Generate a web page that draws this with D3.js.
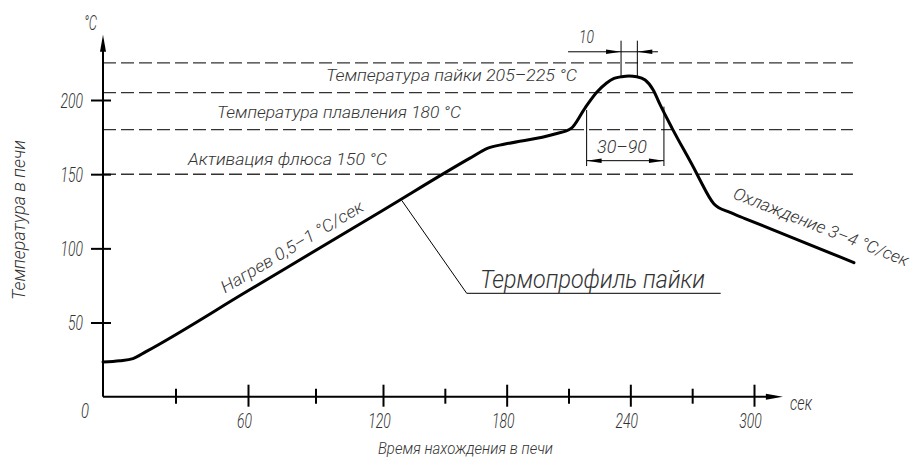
<!DOCTYPE html>
<html>
<head>
<meta charset="utf-8">
<script src="https://cdn.jsdelivr.net/npm/d3@7"></script>
<style>
  body { margin: 0; background: #fff; }
  text { font-family: Roboto, 'DejaVu Sans Condensed', sans-serif; font-weight: 300; font-style: italic; fill: #333; }
</style>
</head>
<body>
<div id="chart-area"></div>
<script>
// soldering thermal profile (time, sec -> temperature, °C)
var profileTime = [0, 7, 12.4, 17.8, 60, 120, 162.2, 170.9, 179.2, 203.4, 211.2, 218, 223.7, 228.5, 232.1, 235.8, 239.4, 243.1, 247.2, 251.1, 254.5, 260.3, 272, 273.8, 280.6, 288.4, 295.6, 341.7, 348.5];
var profileTemp = [23.4, 24.2, 25.7, 30.4, 71.4, 125.7, 160.8, 167.6, 170.3, 177.1, 180.8, 194.6, 205.2, 211.5, 214.5, 215.7, 216.2, 215.7, 213.5, 206.8, 196.7, 180.9, 151, 146.1, 129.9, 124.2, 120.1, 94.2, 90.3];

var xTicks = [30, 60, 90, 120, 150, 180, 210, 240, 270, 300];
var xLabels = [60, 120, 180, 240, 300];
var yTicks = [50, 100, 150, 200];

var levelTemps = [150, 180, 205, 225];
var levelLabels = ["Активация флюса 150 °C", "Температура плавления 180 °C", "Температура пайки 205–225 °C"];

var peakSpan = [235.5, 243.4];      // "10"
var liquidSpan = [218.8, 256.3];    // "30–90"

var width = 914, height = 457;

var x = d3.scaleLinear().domain([0, 60, 120, 300]).range([103, 248, 383, 754]);
var y = d3.scaleLinear().domain([0, 200]).range([396.7, 100]);

var svg = d3.select("#chart-area").append("svg")
    .attr("width", width)
    .attr("height", height);

function arrow(tx, ty, angle, len, hw) {
    // filled narrow arrow head, tip at (tx,ty), pointing along angle (deg)
    var a = angle * Math.PI / 180;
    var bx = tx - Math.cos(a) * len, by = ty - Math.sin(a) * len;
    var px = -Math.sin(a) * hw, py = Math.cos(a) * hw;
    svg.append("path")
        .attr("d", "M" + tx + "," + ty + "L" + (bx + px) + "," + (by + py) + "L" + (bx - px) + "," + (by - py) + "Z")
        .attr("fill", "#000");
}

// dashed temperature levels
svg.selectAll("line.level")
    .data(levelTemps)
    .enter()
    .append("line")
        .attr("class", "level")
        .attr("x1", x(0))
        .attr("x2", x(348))
        .attr("y1", function(d){ return y(d); })
        .attr("y2", function(d){ return y(d); })
        .attr("stroke", "#333")
        .attr("stroke-width", 1.4)
        .attr("stroke-dasharray", "13,5");

// level captions
var levelPos = [[188, 165, 199], [217, 117.5, 244], [326, 80.7, 251]];
svg.selectAll("text.level")
    .data(levelLabels)
    .enter()
    .append("text")
        .attr("class", "level")
        .attr("x", function(d, i){ return levelPos[i][0]; })
        .attr("y", function(d, i){ return levelPos[i][1]; })
        .attr("textLength", function(d, i){ return levelPos[i][2]; })
        .attr("lengthAdjust", "spacingAndGlyphs")
        .attr("font-size", 17)
        .text(function(d){ return d; });

// x axis
var xAxis = svg.append("g")
    .attr("transform", "translate(0," + y(0) + ")")
    .call(d3.axisBottom(x).tickValues(xTicks).tickSize(0).tickFormat(function(d){
        return xLabels.indexOf(d) >= 0 ? d : "";
    }));
xAxis.select(".domain").remove();
xAxis.selectAll(".tick line")
    .attr("y1", function(d){ return d % 60 === 0 ? -12 : -8; })
    .attr("y2", function(d){ return d % 60 === 0 ? 10 : 7; })
    .attr("stroke", "#000")
    .attr("stroke-width", 2);
xAxis.selectAll(".tick text")
    .attr("x", -4)
    .attr("y", 31)
    .attr("dy", 0)
    .attr("font-size", 21)
    .attr("font-family", null)
    .attr("fill", "#333")
    .attr("textLength", function(d){ return xLabels.indexOf(d) >= 0 ? String(d).length * 7.5 : null; })
    .attr("lengthAdjust", "spacingAndGlyphs");

svg.append("line")
    .attr("x1", x(0)).attr("x2", x(310))
    .attr("y1", y(0)).attr("y2", y(0))
    .attr("stroke", "#000").attr("stroke-width", 2);
arrow(x(314), y(0), 0, 17, 3);

// y axis
var yAxis = svg.append("g")
    .attr("transform", "translate(" + x(0) + ",0)")
    .call(d3.axisLeft(y).tickValues(yTicks).tickSize(12));
yAxis.select(".domain").remove();
yAxis.selectAll(".tick line")
    .attr("x1", 8)
    .attr("stroke", "#000")
    .attr("stroke-width", 2);
yAxis.selectAll(".tick text")
    .attr("x", -20)
    .attr("dy", "0.36em")
    .attr("font-size", 20)
    .attr("font-family", null)
    .attr("fill", "#333")
    .attr("textLength", function(d){ return String(d).length * 7.5; })
    .attr("lengthAdjust", "spacingAndGlyphs");

svg.append("line")
    .attr("x1", x(0)).attr("x2", x(0))
    .attr("y1", y(0)).attr("y2", y(238))
    .attr("stroke", "#000").attr("stroke-width", 2);
arrow(x(0), y(244), -90, 17, 3);

// axis captions
svg.append("text").attr("x", 85).attr("y", 418).attr("text-anchor", "middle").attr("font-size", 21)
    .attr("textLength", 8).attr("lengthAdjust", "spacingAndGlyphs").text("0");
svg.append("text").attr("x", 790).attr("y", 410).attr("font-size", 20)
    .attr("textLength", 22).attr("lengthAdjust", "spacingAndGlyphs").text("сек");
svg.append("text").attr("x", 84).attr("y", 30).attr("font-size", 20)
    .attr("textLength", 13).attr("lengthAdjust", "spacingAndGlyphs").text("°C");
svg.append("text").attr("x", 378).attr("y", 454).attr("font-size", 17)
    .attr("textLength", 175).attr("lengthAdjust", "spacingAndGlyphs")
    .text("Время нахождения в печи");
svg.append("text").attr("transform", "translate(25,300) rotate(-90)").attr("font-size", 18)
    .attr("textLength", 160).attr("lengthAdjust", "spacingAndGlyphs")
    .text("Температура в печи");

// profile curve
var profile = profileTime.map(function(t, i){ return [t, profileTemp[i]]; });
var line = d3.line()
    .x(function(d){ return x(d[0]); })
    .y(function(d){ return y(d[1]); })
    .curve(d3.curveMonotoneX);
svg.append("path")
    .datum(profile)
    .attr("d", line)
    .attr("fill", "none")
    .attr("stroke", "#000")
    .attr("stroke-width", 3)
    .attr("stroke-linejoin", "round")
    .attr("stroke-linecap", "round");

// slope captions
svg.append("text").attr("transform", "translate(225,293.5) rotate(-30.8)").attr("font-size", 17)
    .attr("textLength", 163).attr("lengthAdjust", "spacingAndGlyphs")
    .text("Нагрев 0,5–1 °C/сек");
svg.append("text").attr("transform", "translate(732,198) rotate(21.5)").attr("font-size", 17)
    .attr("textLength", 187).attr("lengthAdjust", "spacingAndGlyphs")
    .text("Охлаждение 3–4 °C/сек");

// leader to curve name
svg.append("path")
    .attr("d", "M" + x(129.1) + "," + y(132.3) + "L466.7,293.3L720.7,293.3")
    .attr("fill", "none").attr("stroke", "#000").attr("stroke-width", 1);
svg.append("text").attr("x", 480).attr("y", 287.5).attr("font-size", 25)
    .attr("textLength", 225).attr("lengthAdjust", "spacingAndGlyphs")
    .text("Термопрофиль пайки");

// dimension "10" at the peak
peakSpan.forEach(function(t){
    svg.append("line")
        .attr("x1", x(t)).attr("x2", x(t))
        .attr("y1", y(215.7)).attr("y2", y(240))
        .attr("stroke", "#000").attr("stroke-width", 1);
});
svg.append("line")
    .attr("x1", x(209.8)).attr("x2", x(253.4))
    .attr("y1", y(232.5)).attr("y2", y(232.5))
    .attr("stroke", "#000").attr("stroke-width", 1);
arrow(x(peakSpan[0]), y(232.5), 0, 15, 2.3);
arrow(x(peakSpan[1]), y(232.5), 180, 15, 2.3);
svg.append("text").attr("x", 579).attr("y", 43).attr("font-size", 18)
    .attr("textLength", 15).attr("lengthAdjust", "spacingAndGlyphs").text("10");

// dimension "30–90"
liquidSpan.forEach(function(t, i){
    svg.append("line")
        .attr("x1", x(t)).attr("x2", x(t))
        .attr("y1", y(i === 0 ? 193.3 : 195.5)).attr("y2", y(155.5))
        .attr("stroke", "#000").attr("stroke-width", 1);
});
svg.append("line")
    .attr("x1", x(liquidSpan[0])).attr("x2", x(liquidSpan[1]))
    .attr("y1", y(159.1)).attr("y2", y(159.1))
    .attr("stroke", "#000").attr("stroke-width", 1);
arrow(x(liquidSpan[0]), y(159.1), 180, 15, 2.3);
arrow(x(liquidSpan[1]), y(159.1), 0, 15, 2.3);
svg.append("text").attr("x", 597).attr("y", 153).attr("font-size", 18)
    .attr("textLength", 50).attr("lengthAdjust", "spacingAndGlyphs").text("30–90");
</script>
</body>
</html>
